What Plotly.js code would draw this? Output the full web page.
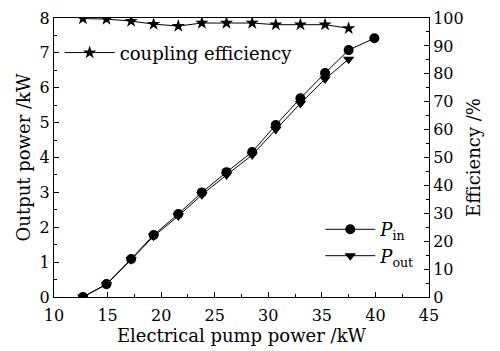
<!DOCTYPE html>
<html><head><meta charset="utf-8">
<script src="https://cdn.plot.ly/plotly-3.0.1.min.js"></script>
<style>html,body{margin:0;padding:0;background:#fff}#chart{width:500px;height:351px}</style>
</head><body><div id="chart"></div>
<script>
var pumpPower = [12.7, 14.9, 17.2, 19.3, 21.6, 23.8, 26.1, 28.5, 30.7, 33.0, 35.3, 37.5, 39.9];
var pIn = [0.0, 0.37, 1.09, 1.78, 2.38, 3.0, 3.58, 4.16, 4.93, 5.70, 6.42, 7.08, 7.42];
var pOut = [0.0, 0.36, 1.07, 1.74, 2.32, 2.93, 3.5, 4.07, 4.8, 5.55, 6.25, 6.82];
var effPump = [12.7, 14.9, 17.2, 19.3, 21.6, 23.8, 26.1, 28.5, 30.7, 33.0, 35.3, 37.5];
var coupEff = [99.8, 99.6, 98.9, 97.8, 97.1, 98.2, 98.2, 98.2, 97.6, 97.6, 97.6, 96.3];

var font = {family: 'DejaVu Serif, serif', size: 18, color: '#000'};
var tickFont = {family: 'DejaVu Serif, serif', size: 16, color: '#000'};
var traces = [
  {x: effPump, y: coupEff, yaxis: 'y2', mode: 'lines+markers', name: 'coupling efficiency',
   line: {color: '#000', width: 1}, marker: {symbol: 'star', size: 10, color: '#000'}, legend: 'legend'},
  {x: pumpPower, y: pIn, mode: 'lines+markers', name: '<i>P</i><sub>in</sub>',
   line: {color: '#000', width: 1}, marker: {symbol: 'circle', size: 10, color: '#000'}, legend: 'legend2'},
  {x: pumpPower.slice(0, pOut.length), y: pOut, mode: 'lines+markers', name: '<i>P</i><sub>out</sub>',
   line: {color: '#000', width: 1}, marker: {symbol: 'triangle-down', size: 10, color: '#000'}, legend: 'legend2'}
];
var layout = {
  width: 500, height: 351,
  margin: {l: 54, r: 71, t: 18, b: 54},
  paper_bgcolor: '#fff', plot_bgcolor: '#fff',
  font: font,
  showlegend: true,
  legend: {x: 0.015, y: 0.875, xanchor: 'left', yanchor: 'middle', bgcolor: 'rgba(0,0,0,0)',
           font: font, itemwidth: 50, tracegroupgap: 0},
  legend2: {x: 0.71, y: 0.195, xanchor: 'left', yanchor: 'middle', bgcolor: 'rgba(0,0,0,0)',
            font: font, itemwidth: 50, tracegroupgap: 0},
  xaxis: {range: [10, 45], dtick: 5, tick0: 10, ticks: 'inside', ticklen: 5, tickcolor: '#000',
          showline: true, linecolor: '#000', linewidth: 1, mirror: true, showgrid: false, zeroline: false,
          minor: {dtick: 2.5, ticks: 'inside', ticklen: 3, tickcolor: '#000'}, ticklabelstandoff: 4,
          title: {text: 'Electrical pump power /kW', font: font, standoff: 3}, tickfont: tickFont},
  yaxis: {range: [0, 8], dtick: 1, ticks: 'inside', ticklen: 5, tickcolor: '#000',
          showline: true, linecolor: '#000', linewidth: 1, showgrid: false, zeroline: false,
          minor: {dtick: 0.5, ticks: 'inside', ticklen: 3, tickcolor: '#000'},
          title: {text: 'Output power /kW', font: font, standoff: 4}, tickfont: tickFont},
  yaxis2: {range: [0, 100], dtick: 10, overlaying: 'y', side: 'right', ticks: 'inside', ticklen: 5, tickcolor: '#000',
           showline: true, linecolor: '#000', linewidth: 1, showgrid: false, zeroline: false,
           minor: {dtick: 5, ticks: 'inside', ticklen: 3, tickcolor: '#000'},
           title: {text: 'Efficiency /%', font: font, standoff: 4}, tickfont: tickFont}
};
Plotly.newPlot('chart', traces, layout, {displayModeBar: false, staticPlot: true});
</script></body></html>
